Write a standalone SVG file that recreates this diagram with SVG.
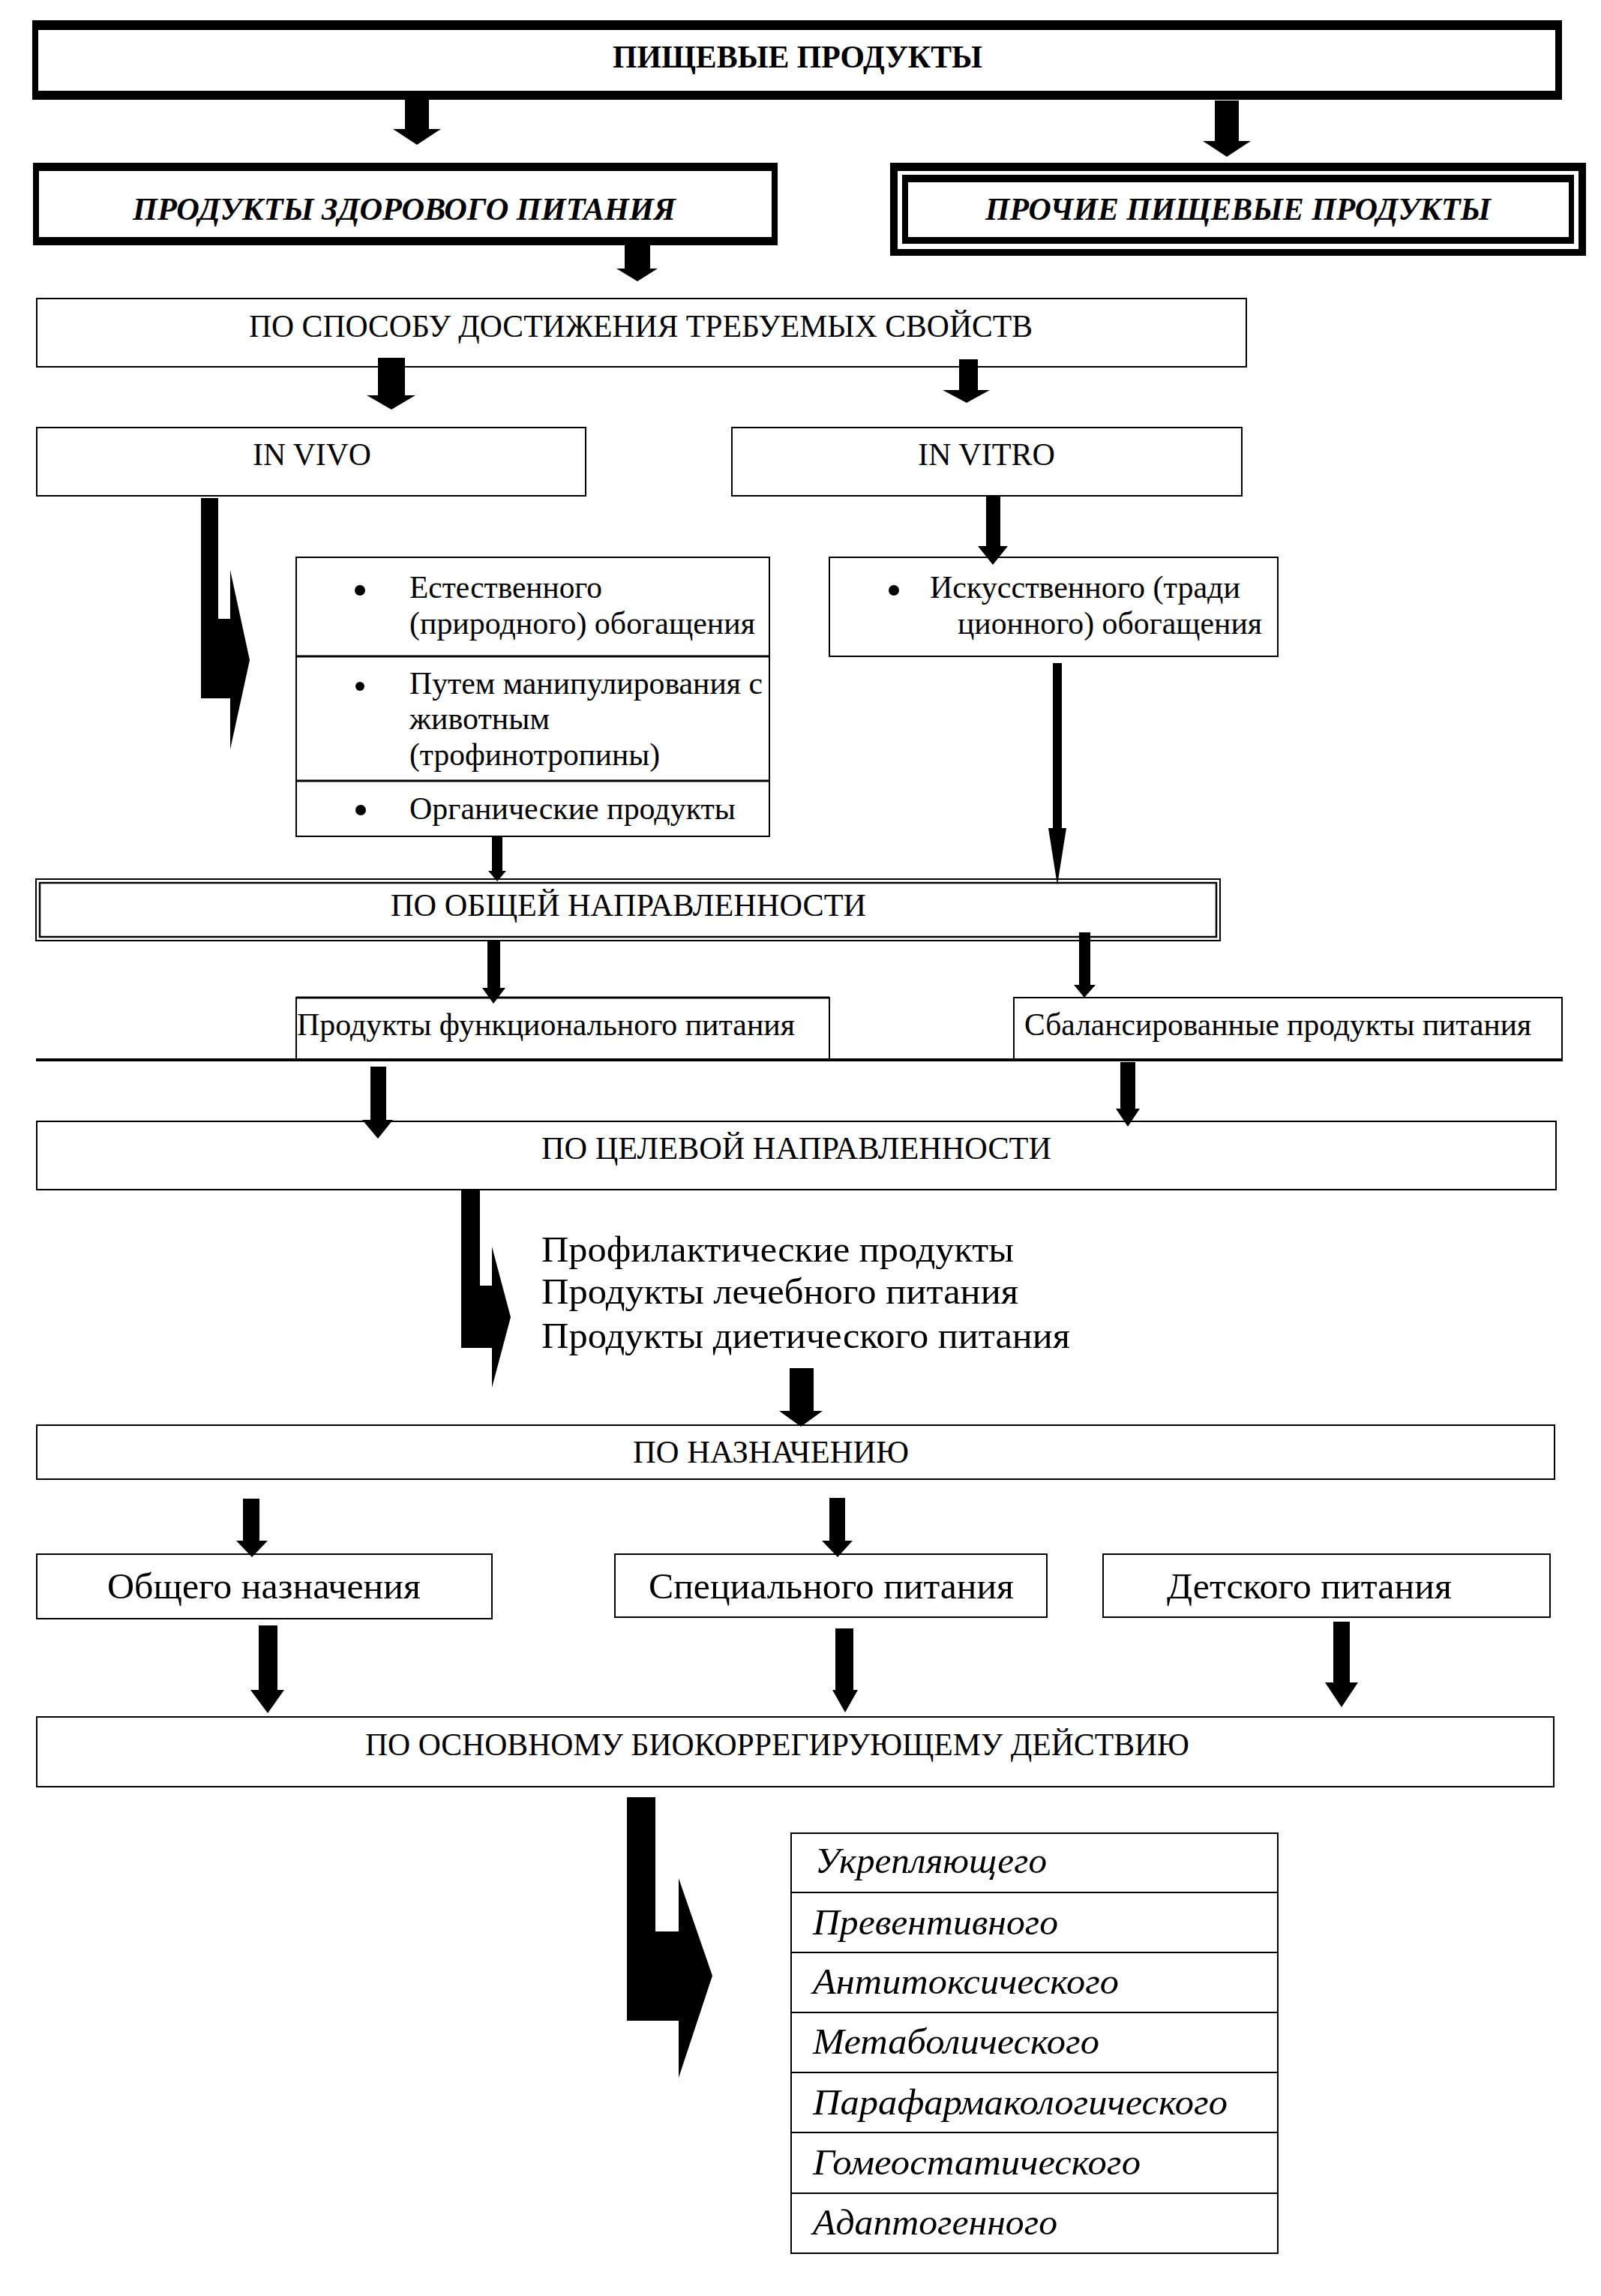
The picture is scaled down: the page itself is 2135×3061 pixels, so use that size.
<svg xmlns="http://www.w3.org/2000/svg" width="2135" height="3061" viewBox="0 0 2135 3061">
<style>
.bx{fill:#fff;stroke:#000;stroke-width:2}
.bk{fill:#000}
.wh{fill:#fff}
.t{font-family:"Liberation Serif","Times New Roman",serif;fill:#000;font-size:42px}
.b{font-weight:bold}
.i{font-style:italic}
.big{font-size:48px}
.arr{fill:#000}
</style>
<rect width="2135" height="3061" fill="#fff"/>
<g id="n-top">
<rect class="bk" x="43" y="27" width="2040" height="106"/>
<rect class="wh" x="51" y="40" width="2023" height="81"/>
<text class="t b" x="817" y="90" font-size="40" textLength="493" lengthAdjust="spacingAndGlyphs">ПИЩЕВЫЕ ПРОДУКТЫ</text>
</g>
<g id="n-healthy">
<rect class="bk" x="44" y="217" width="993" height="110"/>
<rect class="wh" x="52" y="228" width="977" height="88"/>
<text class="t b i" x="177" y="293" textLength="724" lengthAdjust="spacingAndGlyphs">ПРОДУКТЫ ЗДОРОВОГО ПИТАНИЯ</text>
</g>
<g id="n-other">
<rect class="bk" x="1187" y="217" width="928" height="124"/>
<rect class="wh" x="1197" y="228" width="908" height="104"/>
<rect class="bk" x="1203" y="233" width="896" height="92"/>
<rect class="wh" x="1211" y="243" width="881" height="73"/>
<text class="t b i" x="1314" y="293" textLength="674" lengthAdjust="spacingAndGlyphs">ПРОЧИЕ ПИЩЕВЫЕ ПРОДУКТЫ</text>
</g>
<g id="n-method">
<rect class="bx" x="49" y="398" width="1613" height="91"/>
<text class="t" x="332" y="449" textLength="1045" lengthAdjust="spacingAndGlyphs">ПО СПОСОБУ ДОСТИЖЕНИЯ ТРЕБУЕМЫХ СВОЙСТВ</text>
</g>
<g id="n-invivo">
<rect class="bx" x="49" y="570" width="732" height="91"/>
<text class="t" x="337" y="620" textLength="158" lengthAdjust="spacingAndGlyphs">IN VIVO</text>
</g>
<g id="n-invitro">
<rect class="bx" x="976" y="570" width="680" height="91"/>
<text class="t" x="1224" y="620" textLength="183" lengthAdjust="spacingAndGlyphs">IN VITRO</text>
</g>
<g id="n-vivo-list">
<rect class="bx" x="395" y="743" width="631" height="372" stroke-width="3"/>
<line x1="395" y1="875" x2="1026" y2="875" stroke="#000" stroke-width="3"/>
<line x1="395" y1="1041" x2="1026" y2="1041" stroke="#000" stroke-width="3"/>
<circle class="bk" cx="480" cy="787" r="7"/>
<circle class="bk" cx="480" cy="915" r="6"/>
<circle class="bk" cx="481" cy="1080" r="7"/>
<text class="t" x="546" y="797" textLength="257" lengthAdjust="spacingAndGlyphs">Естественного</text>
<text class="t" x="546" y="845" textLength="461" lengthAdjust="spacingAndGlyphs">(природного) обогащения</text>
<text class="t" x="546" y="925" textLength="471" lengthAdjust="spacingAndGlyphs">Путем манипулирования с</text>
<text class="t" x="546" y="972" textLength="187" lengthAdjust="spacingAndGlyphs">животным</text>
<text class="t" x="546" y="1020" textLength="334" lengthAdjust="spacingAndGlyphs">(трофинотропины)</text>
<text class="t" x="546" y="1092" textLength="435" lengthAdjust="spacingAndGlyphs">Органические продукты</text>
</g>
<g id="n-vitro-list">
<rect class="bx" x="1106" y="743" width="598" height="132" stroke-width="3"/>
<circle class="bk" cx="1192" cy="787" r="7"/>
<text class="t" x="1240" y="797" textLength="414" lengthAdjust="spacingAndGlyphs">Искусственного (тради</text>
<text class="t" x="1277" y="845" textLength="406" lengthAdjust="spacingAndGlyphs">ционного) обогащения</text>
</g>
<g id="n-general">
<rect class="bx" x="48" y="1172" width="1579" height="82" stroke-width="3.5"/>
<rect x="53" y="1177" width="1569" height="72" fill="none" stroke="#000" stroke-width="2.5"/>
<text class="t" x="521" y="1221" font-size="40" textLength="634" lengthAdjust="spacingAndGlyphs">ПО ОБЩЕЙ НАПРАВЛЕННОСТИ</text>
</g>
<g id="n-functional">
<rect class="bx" x="395" y="1330" width="711" height="83"/>
<line x1="395" y1="1330" x2="1106" y2="1330" stroke="#000" stroke-width="3"/>
<text class="t" x="396" y="1380" font-size="40" textLength="664" lengthAdjust="spacingAndGlyphs">Продукты функционального питания</text>
</g>
<g id="n-balanced">
<rect class="bx" x="1352" y="1330" width="731" height="83" stroke-width="3"/>
<text class="t" x="1366" y="1380" font-size="40" textLength="676" lengthAdjust="spacingAndGlyphs">Сбалансированные продукты питания</text>
</g>
<g id="n-baseline">
<line x1="48" y1="1413" x2="2084" y2="1413" stroke="#000" stroke-width="4"/>
</g>
<g id="n-target">
<rect class="bx" x="49" y="1495" width="2026" height="91"/>
<text class="t" x="722" y="1545" font-size="40" textLength="680" lengthAdjust="spacingAndGlyphs">ПО ЦЕЛЕВОЙ НАПРАВЛЕННОСТИ</text>
</g>
<g id="n-target-list">
<text class="t big" x="722" y="1682" textLength="630" lengthAdjust="spacingAndGlyphs">Профилактические продукты</text>
<text class="t big" x="722" y="1738" textLength="636" lengthAdjust="spacingAndGlyphs">Продукты лечебного питания</text>
<text class="t big" x="722" y="1797" textLength="705" lengthAdjust="spacingAndGlyphs">Продукты диетического питания</text>
</g>
<g id="n-purpose">
<rect class="bx" x="49" y="1900" width="2024" height="72"/>
<text class="t" x="844" y="1950" font-size="40" textLength="368" lengthAdjust="spacingAndGlyphs">ПО НАЗНАЧЕНИЮ</text>
</g>
<g id="n-common">
<rect class="bx" x="49" y="2072" width="607" height="86" stroke-width="3"/>
<text class="t big" x="143" y="2131" textLength="418" lengthAdjust="spacingAndGlyphs">Общего назначения</text>
</g>
<g id="n-special">
<rect class="bx" x="820" y="2072" width="576" height="84"/>
<text class="t big" x="865" y="2131" textLength="487" lengthAdjust="spacingAndGlyphs">Специального питания</text>
</g>
<g id="n-child">
<rect class="bx" x="1471" y="2072" width="596" height="84"/>
<text class="t big" x="1556" y="2131" textLength="380" lengthAdjust="spacingAndGlyphs">Детского питания</text>
</g>
<g id="n-bio">
<rect class="bx" x="49" y="2289" width="2023" height="93"/>
<text class="t" x="487" y="2340" textLength="1099" lengthAdjust="spacingAndGlyphs">ПО ОСНОВНОМУ БИОКОРРЕГИРУЮЩЕМУ ДЕЙСТВИЮ</text>
</g>
<g id="n-bio-list">
<rect class="bx" x="1055" y="2444" width="649" height="560"/>
<line x1="1055" y1="2523" x2="1704" y2="2523" stroke="#000" stroke-width="2"/>
<line x1="1055" y1="2603" x2="1704" y2="2603" stroke="#000" stroke-width="2"/>
<line x1="1055" y1="2683" x2="1704" y2="2683" stroke="#000" stroke-width="2"/>
<line x1="1055" y1="2763" x2="1704" y2="2763" stroke="#000" stroke-width="2"/>
<line x1="1055" y1="2843" x2="1704" y2="2843" stroke="#000" stroke-width="2"/>
<line x1="1055" y1="2924" x2="1704" y2="2924" stroke="#000" stroke-width="2"/>
<text class="t big i" x="1087" y="2497" textLength="309" lengthAdjust="spacingAndGlyphs">Укрепляющего</text>
<text class="t big i" x="1084" y="2579" textLength="327" lengthAdjust="spacingAndGlyphs">Превентивного</text>
<text class="t big i" x="1084" y="2658" textLength="408" lengthAdjust="spacingAndGlyphs">Антитоксического</text>
<text class="t big i" x="1084" y="2738" textLength="382" lengthAdjust="spacingAndGlyphs">Метаболического</text>
<text class="t big i" x="1084" y="2819" textLength="553" lengthAdjust="spacingAndGlyphs">Парафармакологического</text>
<text class="t big i" x="1084" y="2899" textLength="437" lengthAdjust="spacingAndGlyphs">Гомеостатического</text>
<text class="t big i" x="1084" y="2979" textLength="326" lengthAdjust="spacingAndGlyphs">Адаптогенного</text>
</g>
<g id="connectors">
<polygon class="arr" points="540,121 572,121 572,172 588,172 556,193 524,172 540,172"/>
<polygon class="arr" points="1620,134 1652,134 1652,188 1668,188 1636,209 1604,188 1620,188"/>
<polygon class="arr" points="833,316 867,316 867,358 877,358 850,375 822,358 833,358"/>
<polygon class="arr" points="504,477 540,477 540,527 554,527 522,546 489,527 504,527"/>
<polygon class="arr" points="1279,479 1304,479 1304,520 1320,520 1289,537 1257,520 1279,520"/>
<polygon class="arr" points="1315,660 1334,660 1334,728 1344,728 1324,753 1304,728 1315,728"/>
<polygon class="arr" points="1404,884 1416,884 1416,1104 1422,1104 1410,1180 1398,1104 1404,1104"/>
<polygon class="arr" points="656,1115 670,1115 670,1161 675,1161 663,1175 651,1161 656,1161"/>
<polygon class="arr" points="650,1254 667,1254 667,1317 674,1317 658,1338 643,1317 650,1317"/>
<polygon class="arr" points="1439,1243 1454,1243 1454,1313 1461,1313 1446,1330 1432,1313 1439,1313"/>
<polygon class="arr" points="494,1422 515,1422 515,1493 524,1493 504,1518 483,1493 494,1493"/>
<polygon class="arr" points="1494,1416 1514,1416 1514,1478 1520,1478 1504,1502 1488,1478 1494,1478"/>
<polygon class="arr" points="1053,1824 1085,1824 1085,1881 1097,1881 1068,1902 1039,1881 1053,1881"/>
<polygon class="arr" points="324,1998 346,1998 346,2054 357,2054 336,2076 315,2054 324,2054"/>
<polygon class="arr" points="1106,1997 1127,1997 1127,2054 1137,2054 1117,2076 1096,2054 1106,2054"/>
<polygon class="arr" points="345,2167 370,2167 370,2253 379,2253 357,2284 334,2253 345,2253"/>
<polygon class="arr" points="1114,2171 1138,2171 1138,2253 1144,2253 1127,2283 1110,2253 1114,2253"/>
<polygon class="arr" points="1778,2162 1800,2162 1800,2243 1811,2243 1789,2276 1767,2243 1778,2243"/>
<polygon class="arr" points="268,664 291,664 291,825 307,825 307,760 333,880 307,999 307,931 268,931"/>
<polygon class="arr" points="615,1585 640,1585 640,1714 656,1714 656,1662 681,1756 656,1850 656,1797 615,1797"/>
<polygon class="arr" points="836,2396 874,2396 874,2575 905,2575 905,2504 950,2634 905,2770 905,2694 836,2694"/>
</g>
</svg>
